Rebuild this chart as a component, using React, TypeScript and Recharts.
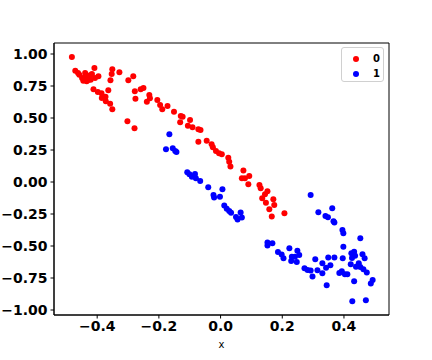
import React from 'react'
import { ScatterChart, Scatter, XAxis, YAxis, ReferenceArea } from 'recharts'

// class 0 (red)
const redX = [
  -0.482, -0.471, -0.458, -0.449, -0.439, -0.438, -0.445, -0.434, -0.423, -0.421,
  -0.409, -0.407, -0.396, -0.412, -0.398, -0.386, -0.385, -0.373, -0.372, -0.364,
  -0.358, -0.351, -0.351, -0.353, -0.357, -0.328, -0.299, -0.283, -0.278, -0.276,
  -0.259, -0.25, -0.231, -0.229, -0.239, -0.302, -0.279, -0.429, -0.462, -0.417,
  -0.205, -0.196, -0.189, -0.172, -0.151, -0.129, -0.123, -0.131, -0.099, -0.106,
  -0.091, -0.072, -0.065, -0.072, -0.045, -0.029, -0.025, -0.015, -0.005, 0.004,
  0.025, 0.028, 0.032, 0.074, 0.069, 0.079, 0.093, 0.09, 0.126, 0.13,
  0.152, 0.144, 0.135, 0.171, 0.147, 0.174, 0.158, 0.166, 0.207,
]
const redY = [
  0.977, 0.87, 0.838, 0.813, 0.852, 0.826, 0.791, 0.787, 0.834, 0.799,
  0.891, 0.813, 0.826, 0.724, 0.703, 0.693, 0.656, 0.666, 0.63, 0.716,
  0.612, 0.568, 0.88, 0.844, 0.795, 0.857, 0.795, 0.826, 0.709, 0.651,
  0.724, 0.734, 0.68, 0.654, 0.627, 0.474, 0.42, 0.797, 0.852, 0.844,
  0.641, 0.602, 0.568, 0.594, 0.549, 0.516, 0.51, 0.466, 0.484, 0.44,
  0.427, 0.412, 0.406, 0.315, 0.323, 0.295, 0.271, 0.242, 0.224, 0.216,
  0.19, 0.159, 0.121, 0.09, 0.029, 0.029, 0.047, -0.018, -0.023, -0.049,
  -0.073, -0.096, -0.127, -0.135, -0.162, -0.18, -0.213, -0.27, -0.245,
]

// class 1 (blue)
const blueX = [
  -0.166, -0.177, -0.155, -0.147, -0.143, -0.108, -0.101, -0.093, -0.083, -0.08,
  -0.066, -0.04, 0.006, -0.023, -0.021, -0.002, 0.012, 0.02, 0.028, 0.034,
  0.05, 0.055, 0.065, 0.069, 0.152, 0.152, 0.168, 0.186, 0.198, 0.204,
  0.223, 0.231, 0.241, 0.255, 0.229, 0.247, 0.249, 0.272, 0.282, 0.292,
  0.298, 0.307, 0.314, 0.33, 0.33, 0.342, 0.349, 0.356, 0.344, 0.369,
  0.385, 0.393, 0.403, 0.411, 0.396, 0.424, 0.433, 0.436, 0.426, 0.422,
  0.439, 0.448, 0.453, 0.463, 0.46, 0.467, 0.474, 0.433, 0.493, 0.487,
  0.427, 0.471, 0.292, 0.317, 0.362, 0.34, 0.348, 0.366, 0.369, 0.395,
  0.398, 0.453, 0.398,
]
const blueY = [
  0.373, 0.255, 0.263, 0.242, 0.234, 0.076, 0.06, 0.041, 0.063, 0.029,
  0.008, -0.041, -0.057, -0.102, -0.121, -0.115, -0.184, -0.209, -0.227, -0.24,
  -0.273, -0.293, -0.238, -0.277, -0.473, -0.496, -0.479, -0.547, -0.566, -0.596,
  -0.518, -0.584, -0.584, -0.57, -0.617, -0.625, -0.537, -0.674, -0.688, -0.691,
  -0.738, -0.604, -0.69, -0.635, -0.713, -0.67, -0.59, -0.651, -0.806, -0.59,
  -0.711, -0.698, -0.721, -0.721, -0.596, -0.557, -0.545, -0.576, -0.594, -0.642,
  -0.662, -0.635, -0.664, -0.681, -0.564, -0.596, -0.707, -0.775, -0.766, -0.793,
  -0.932, -0.923, -0.102, -0.237, -0.205, -0.266, -0.276, -0.307, -0.316, -0.375,
  -0.401, -0.44, -0.505,
]

const xTicks = [-0.4, -0.2, 0, 0.2, 0.4]
const yTicks = [-1, -0.75, -0.5, -0.25, 0, 0.25, 0.5, 0.75, 1]
const xDomain = [-0.54, 0.546]
const yDomain = [-1.039, 1.086]

const redData = redX.map((x, i) => ({ x, y: redY[i] }))
const blueData = blueX.map((x, i) => ({ x, y: blueY[i] }))

const fmt = (v: number, d: number) => (v < 0 ? '\u2212' : '') + Math.abs(v).toFixed(d)

const Dot = (props: any) => <circle cx={props.cx} cy={props.cy} r={3} fill={props.fill} />

const tickStyle = { fontFamily: 'DejaVu Sans', fontSize: 14, fontWeight: 'bold', fill: '#000' }

function LegendBox() {
  const row = (color: string, label: string) => (
    <div style={{ display: 'flex', alignItems: 'center', height: 15 }}>
      <span style={{ width: 6, height: 6, borderRadius: 3, background: color, marginLeft: 11, marginRight: 14 }} />
      <span style={{ fontSize: 10, fontWeight: 'bold' }}>{label}</span>
    </div>
  )
  return (
    <div
      style={{
        position: 'absolute',
        left: 341,
        top: 47,
        width: 43,
        height: 35,
        boxSizing: 'border-box',
        border: '1px solid #d0d0d0',
        borderRadius: 3,
        background: '#fff',
        paddingTop: 3,
        fontFamily: 'DejaVu Sans',
        color: '#000',
      }}
    >
      {row('#ff0000', '0')}
      {row('#0000ff', '1')}
    </div>
  )
}

export default function App() {
  return (
    <div style={{ position: 'absolute', left: 0, top: 0, width: 432, height: 360, background: '#fff' }}>
      <ScatterChart width={432} height={360} margin={{ top: 43, right: 43, bottom: 0, left: 0 }}>
        <XAxis
          type="number"
          dataKey="x"
          domain={xDomain}
          ticks={xTicks}
          tickFormatter={(v) => fmt(v, 1)}
          allowDataOverflow
          height={45}
          tickSize={3.5}
          tickMargin={3}
          tick={tickStyle}
          stroke="#000"
          label={{ value: 'x', position: 'insideBottom', offset: 12, style: { fontFamily: 'DejaVu Sans', fontSize: 10, fill: '#000' } }}
        />
        <YAxis
          type="number"
          dataKey="y"
          domain={yDomain}
          ticks={yTicks}
          tickFormatter={(v) => fmt(v, 2)}
          allowDataOverflow
          width={54}
          tickSize={3.5}
          tickMargin={3}
          tick={tickStyle}
          stroke="#000"
        />
        <ReferenceArea
          x1={xDomain[0]}
          x2={xDomain[1]}
          y1={yDomain[0]}
          y2={yDomain[1]}
          fill="none"
          stroke="#000"
          strokeWidth={1}
          ifOverflow="visible"
        />
        <Scatter name="0" data={redData} fill="#ff0000" shape={Dot} isAnimationActive={false} />
        <Scatter name="1" data={blueData} fill="#0000ff" shape={Dot} isAnimationActive={false} />
      </ScatterChart>
      <LegendBox />
    </div>
  )
}
